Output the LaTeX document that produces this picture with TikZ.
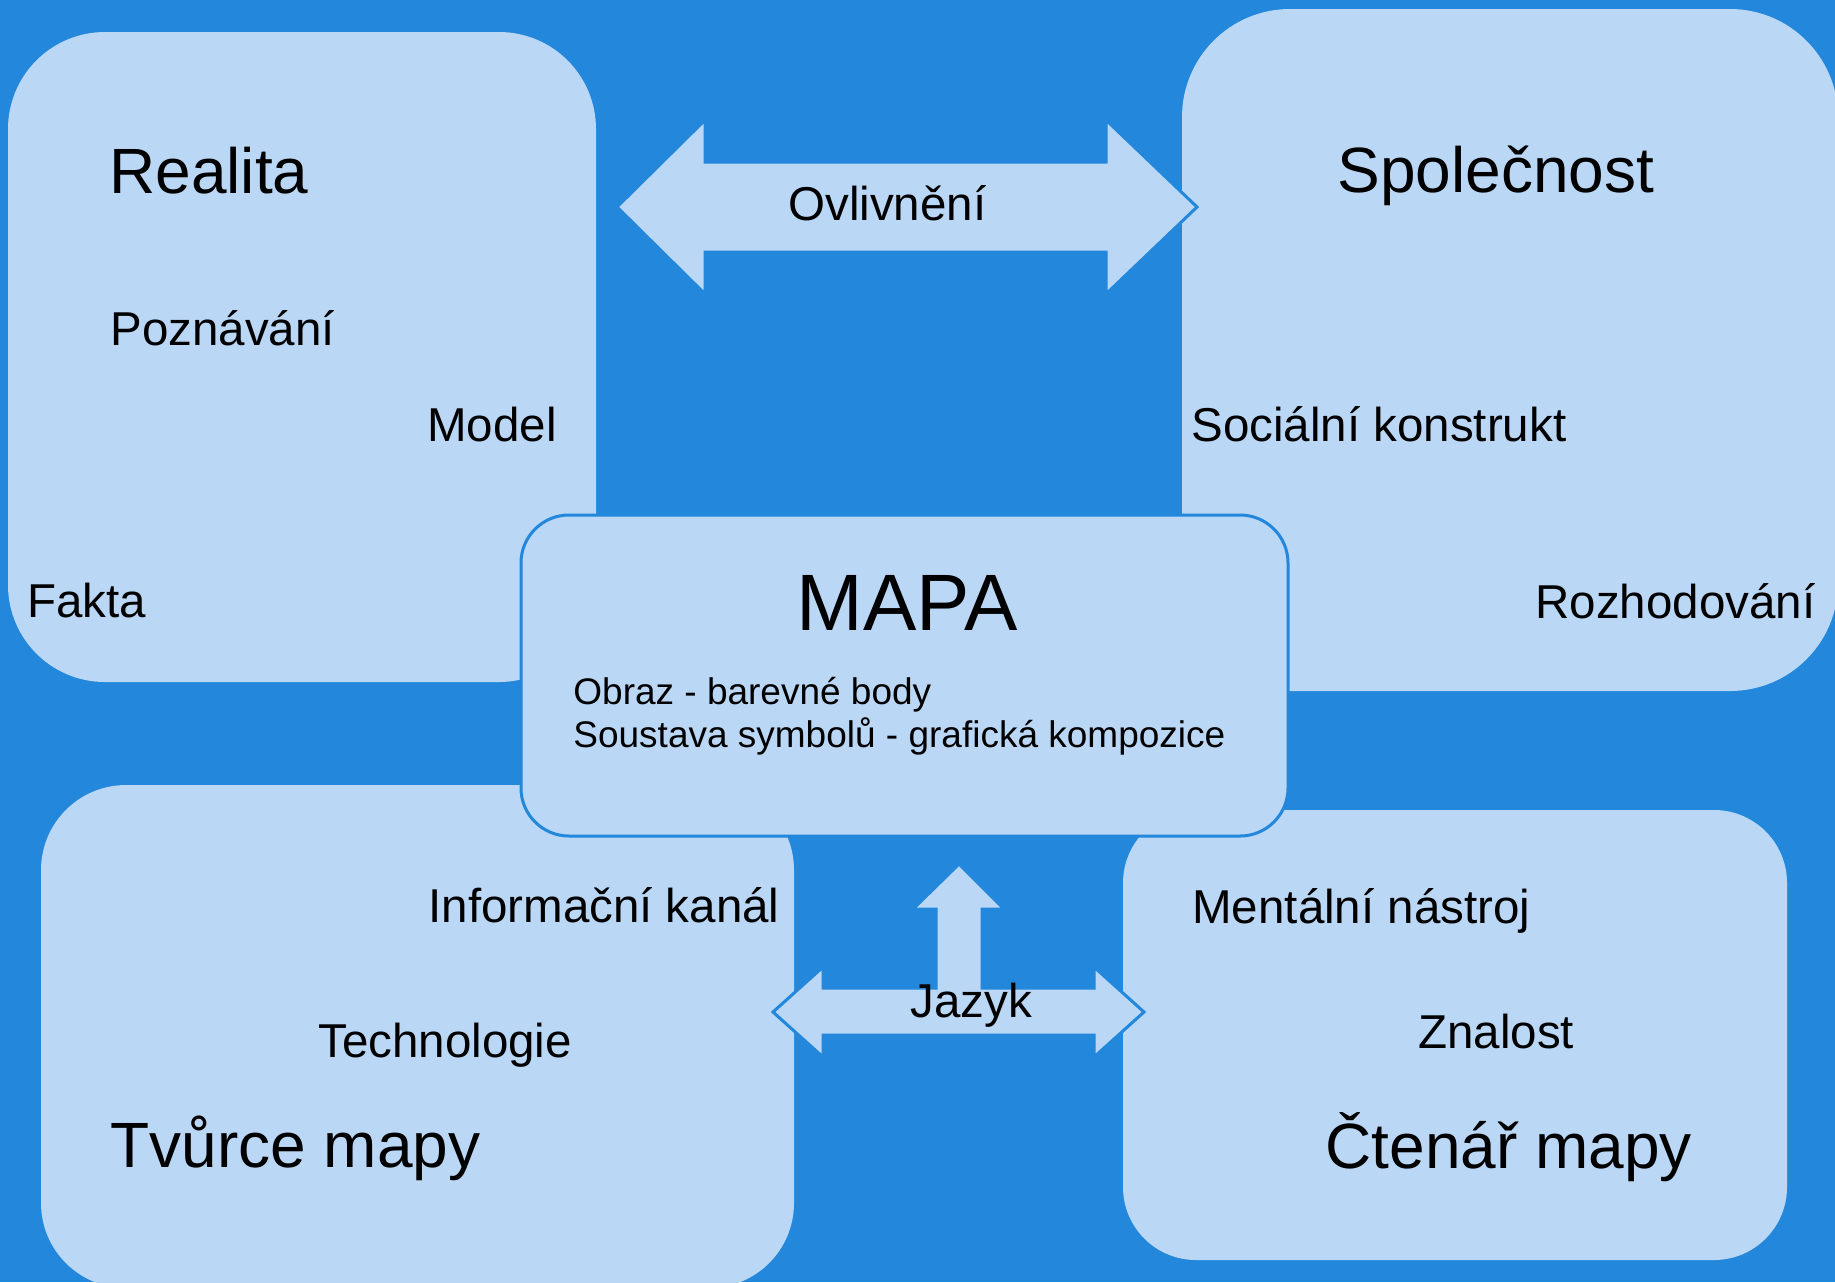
\documentclass[tikz,border=0pt]{standalone}
\usepackage{fontspec}
\setmainfont{Liberation Sans}
\definecolor{bgblue}{RGB}{35,135,219}
\definecolor{lightbox}{RGB}{186,215,245}
\begin{document}
\begin{tikzpicture}[x=0.5pt,y=-0.5pt,
  box/.style={fill=lightbox},
  big/.style={font=\fontsize{32}{38}\selectfont, anchor=base west, inner sep=0pt},
  mid/.style={font=\fontsize{23.75}{28}\selectfont, anchor=base west, inner sep=0pt},
  small/.style={font=\fontsize{18.5}{21.5}\selectfont, anchor=base west, inner sep=0pt},
  arrowshape/.style={fill=lightbox, draw=bgblue, line width=1.5pt, line join=miter}]
\fill[bgblue] (0,0) rectangle (1835,1282);
\useasboundingbox (0,0) rectangle (1835,1282);
% corner boxes
\fill[box, rounded corners=48.5pt] (8,32) rectangle (596,682);
\fill[box, rounded corners=54pt] (1182,9) rectangle (1838,691);
\fill[box, rounded corners=42.5pt] (41,785) rectangle (794,1288);
\fill[box, rounded corners=36.5pt] (1123,810) rectangle (1787,1260);
% influence arrow
\draw[arrowshape] (617,207) -- (705,120) -- (705,162) -- (1106,162) -- (1106,120) -- (1197,207) -- (1106,294) -- (1106,252) -- (705,252) -- (705,294) -- cycle;
% language arrow
\draw[arrowshape] (773,1012) -- (823,967) -- (823,988) -- (936,988) -- (936,909) -- (913,909) -- (959,864) -- (1004,909) -- (982,909) -- (982,988) -- (1094,988) -- (1094,967) -- (1144,1012) -- (1094,1057) -- (1094,1035) -- (823,1035) -- (823,1057) -- cycle;
% central box
\draw[fill=lightbox, draw=bgblue, line width=1.5pt, rounded corners=24pt] (521,515) rectangle (1288,836);
% texts
\node[big] (realita) at (109,193) {Realita};
\node[mid] (poznavani) at (110,345) {Poznávání};
\node[mid] (model) at (427,441) {Model};
\node[mid] (fakta) at (27,617) {Fakta};
\node[big] (spolecnost) at (1337,192) {Společnost};
\node[mid] (socialni) at (1191,441) {Sociální konstrukt};
\node[mid] (rozhodovani) at (1535,618) {Rozhodování};
\node[mid] (ovlivneni) at (788,220) {Ovlivnění};
\node[font=\fontsize{40}{48}\selectfont, anchor=base, inner sep=0pt] (mapa) at (907,630) {MAPA};
\node[small] (obraz) at (573,704) {Obraz - barevné body};
\node[small] (soustava) at (573,747) {Soustava symbolů - grafická kompozice};
\node[mid] (infokanal) at (428,922) {Informační kanál};
\node[mid] (technologie) at (318,1057) {Technologie};
\node[big] (tvurce) at (110,1167) {Tvůrce mapy};
\node[mid] (mentalni) at (1192,923) {Mentální nástroj};
\node[mid] (znalost) at (1418,1048) {Znalost};
\node[big] (ctenar) at (1325,1168) {Čtenář mapy};
\node[mid] (jazyk) at (910,1017) {Jazyk};
\end{tikzpicture}
\end{document}
